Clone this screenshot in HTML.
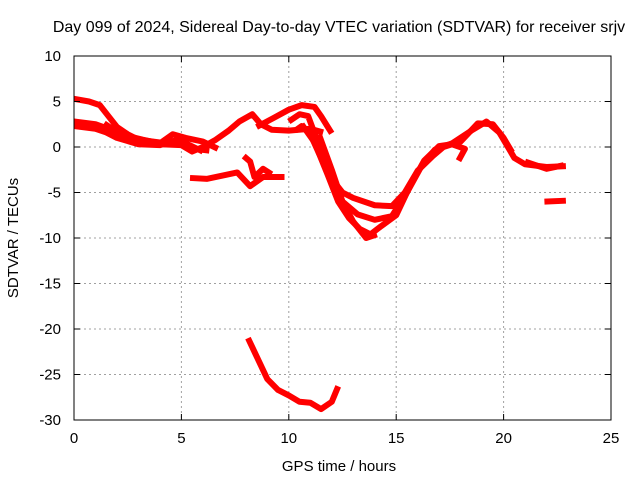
<!DOCTYPE html>
<html><head><meta charset="utf-8"><style>
body{margin:0;background:#fff;}
svg{display:block;font-family:"Liberation Sans",sans-serif;}
</style></head><body>
<svg id="chart" width="640" height="480">
<text x="339" y="32" font-size="16" text-anchor="middle">Day 099 of 2024, Sidereal Day-to-day VTEC variation (SDTVAR) for receiver srjv</text>
<text x="339" y="471" font-size="15" text-anchor="middle">GPS time / hours</text>
<text transform="translate(18,238) rotate(-90)" font-size="15" text-anchor="middle">SDTVAR / TECUs</text>
<g id="grid"></g><g id="series"></g>
<rect x="74" y="56" width="537" height="364" fill="none" stroke="#000" stroke-width="1"/>
<g id="ticks"></g>
</svg>
<script>
const xTicks=[0,5,10,15,20,25];
const yTicks=[10,5,0,-5,-10,-15,-20,-25,-30];
const s1=[[0,5.3],[0.7,5],[1.2,4.6],[1.6,3.4],[2,2.2],[2.5,1.4],[3,0.8],[4,0.5],[5,0.3],[5.6,-0.2],[6.3,-0.4]];
const s2=[[0,2.8],[1,2.5],[1.6,2],[2.2,1.3],[3,0.6],[4,0.3],[5,0.2],[5.5,-0.5],[6,0],[6.6,0.8],[7.2,1.8],[7.7,2.8],[8.3,3.6],[8.7,2.5],[9.2,1.9],[10,1.8],[11,2],[11.6,1.6]];
const s3=[[0,2.3],[1,2],[1.5,1.6],[2,1],[3,0.3],[4,0.2],[4.8,0.8],[5.3,0.3],[6,-0.5]];
const s3b=[[1.4,2.6],[1.9,1.8],[2.5,1.2],[3.2,0.8],[4,0.4],[4.6,1.4],[5.2,1],[6,0.6],[6.7,-0.2]];
const s4=[[8.5,2.2],[9.3,3.2],[10,4.1],[10.6,4.6],[11.2,4.4],[11.5,3.4],[12,1.5]];
const s5=[[10,2.8],[10.5,3.6],[10.9,3.4],[11.2,1.5],[11.6,-1],[12,-3.5],[12.5,-5],[13,-5.6],[14,-6.4],[14.8,-6.5],[15.4,-5],[16,-2.6],[16.7,-1],[17.2,0],[18,0.6],[18.8,2.6],[19.5,2.5],[20,1],[20.4,-0.6]];
const s6=[[10.3,1.8],[10.6,2.3],[11,1.4],[11.5,-1.2],[12,-4],[12.5,-6],[13.2,-7.4],[14,-8],[14.8,-7.6],[15.5,-5],[16.2,-2],[16.8,-0.3],[17.6,0.4],[18.5,1.8],[19.2,2.8],[19.8,1.6],[20.5,-1.2],[21,-1.9],[22,-2.2],[22.9,-2.1]];
const s7=[[10.6,2.5],[11.2,0.5],[11.8,-3],[12.3,-6],[12.8,-7.8],[13.3,-9],[13.8,-9.6],[14.3,-8.7],[15,-7.5],[15.6,-4.5],[16.3,-1.5],[17,0.1],[17.6,0.3],[18.2,-0.2],[17.9,-1.5]];
const s8=[[11.4,1.4],[12,-2.5],[12.5,-6],[13,-8.2],[13.6,-10],[14.1,-9.6]];
const s9=[[5.4,-3.4],[6.2,-3.5],[7,-3.1],[7.6,-2.8],[8.2,-4.3],[8.8,-3.3],[9.8,-3.3]];
const s10=[[7.9,-1],[8.2,-1.6],[8.4,-3.3],[8.8,-2.4],[9.2,-3]];
const s11=[[21,-1.6],[22,-2.4],[22.8,-2]];
const s12=[[21.9,-6],[22.9,-5.9]];
const s13=[[8.1,-21],[8.5,-23],[9,-25.5],[9.5,-26.7],[10,-27.3],[10.5,-28],[11,-28.1],[11.5,-28.8],[12,-28],[12.3,-26.3]];
const allSeries=[s1,s2,s3,s3b,s4,s5,s6,s7,s8,s9,s10,s11,s12,s13];
const NS="http://www.w3.org/2000/svg";
const X=h=>74+h*537/25, Y=v=>56+(10-v)*364/40;
const grid=document.getElementById('grid'),ticks=document.getElementById('ticks'),ser=document.getElementById('series');
function mk(t,a,p){const e=document.createElementNS(NS,t);for(const k in a)e.setAttribute(k,a[k]);p.appendChild(e);return e;}
xTicks.forEach(t=>{const x=X(t);
 if(t>0&&t<25){const g=mk('line',{x1:x,x2:x,y1:56,y2:420,stroke:'#a0a0a0','stroke-dasharray':'2,3'},grid);
 
 }
 const tl=mk('text',{x:x,y:443,'font-size':15,'text-anchor':'middle'},ticks);tl.textContent=t;
 
 
 mk('line',{x1:x,x2:x,y1:420,y2:414,stroke:'#000'},ticks);mk('line',{x1:x,x2:x,y1:56,y2:62,stroke:'#000'},ticks);});
yTicks.forEach(t=>{const y=Y(t);
 if(t<10&&t>-30){const g=mk('line',{x1:74,x2:611,y1:y,y2:y,stroke:'#a0a0a0','stroke-dasharray':'2,3'},grid);
 
 }
 const tl=mk('text',{x:61,y:y+5,'font-size':15,'text-anchor':'end'},ticks);tl.textContent=t;
 
 
 mk('line',{x1:74,x2:80,y1:y,y2:y,stroke:'#000'},ticks);mk('line',{x1:611,x2:605,y1:y,y2:y,stroke:'#000'},ticks);});
allSeries.forEach((s,i)=>{const p=mk('polyline',{points:s.map(d=>X(d[0])+','+Y(d[1])).join(' '),fill:'none',stroke:'#ff0000','stroke-width':6,'stroke-linejoin':'round'},ser);
 
 });
</script>
</body></html>
